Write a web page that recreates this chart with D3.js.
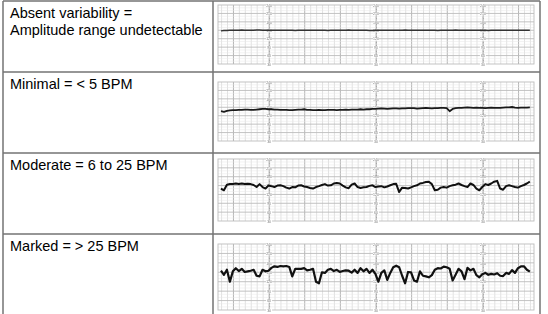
<!DOCTYPE html>
<html>
<head>
<meta charset="utf-8">
<script src="https://cdn.jsdelivr.net/npm/d3@7"></script>
<style>
  body { margin: 0; background: #fff; }
  svg { display: block; }
  .labels text { filter: grayscale(1); }
</style>
</head>
<body>
<svg></svg>
<script>
// row captions (left column)
let rowLabels = [
    ['Absent variability =', 'Amplitude range undetectable'],
    ['Minimal = < 5 BPM'],
    ['Moderate = 6 to 25 BPM'],
    ['Marked = > 25 BPM']
];

// tick labels printed on the strip paper
let bpmTicks = [240, 210, 180, 150, 120, 90, 60, 30];
let labelColumns = [0, 180, 360]; // seconds

// FHR samples, one every 5 s starting at -81 s
let sampleStart = -81;
let sampleStep = 5;

let absentFhr = [
    148,149,149,150,150,150,150,151,150,150,
    150,150,151,151,150,150,150,150,150,150,
    150,150,150,150,150,149,150,150,150,150,
    150,150,150,150,150,150,149,150,150,150,
    150,150,150,151,150,150,150,150,150,150,
    149,149,150,150,150,150,150,150,150,150,
    150,150,151,150,150,150,150,150,150,150,
    150,150,150,149,150,150,150,150,150,151,
    150,150,150,150,150,150,150,150,150,150,
    149,150,150,150,150,150,150,150,150,150,
    150,150,150,150,150
];

let minimalFhr = [
    136,134,137,139,140,140,141,141,142,142,
    141,141,142,143,144,144,143,143,142,142,
    141,141,141,140,140,141,142,142,143,141,
    141,140,140,141,140,140,141,141,141,140,
    141,141,142,141,142,142,142,143,142,143,
    143,144,144,145,146,145,144,145,146,146,
    145,146,146,147,147,147,145,146,147,148,
    147,146,147,147,148,148,147,136,144,147,
    148,148,149,150,149,148,149,148,148,147,
    148,149,148,148,148,149,150,150,151,149,
    148,149,149,149,150
];

let moderateFhr = [
    140,134,153,155,155,157,155,157,155,156,
    155,152,145,155,145,140,150,148,145,150,
    151,148,143,140,145,144,150,151,147,145,
    142,140,145,148,152,155,150,151,157,159,
    157,150,144,141,153,157,145,142,144,145,
    149,151,145,147,148,144,147,151,155,156,
    128,143,142,140,144,148,151,157,159,162,
    163,155,134,136,143,145,143,148,151,153,
    157,152,148,145,157,152,140,134,145,155,
    152,157,163,166,140,136,148,151,148,145,
    143,148,152,157,163
];

let markedFhr = [
    155,142,158,120,153,163,154,161,151,153,
    155,158,139,137,158,153,155,164,169,167,
    170,169,170,167,137,161,161,161,163,156,
    158,161,120,115,150,148,158,161,154,158,
    151,154,156,155,149,158,148,163,153,161,
    148,158,145,120,148,156,126,148,166,171,
    166,139,115,151,150,124,120,153,139,137,
    134,141,158,163,162,168,166,161,124,142,
    161,153,128,164,156,161,141,134,144,148,
    142,145,143,147,139,138,148,145,157,148,
    163,169,169,158,152
];

let series = [absentFhr, minimalFhr, moderateFhr, markedFhr];

let width = 548;
let height = 314;

let tableLeft = 3;
let tableRight = 540;
let colSplit = 213;
let rowTops = [1, 72, 153, 234];
let strips = [[5, 64], [82, 141], [159, 221], [244, 310]];
let traceWidths = [1.4, 1.8, 2, 2.2];
let traceColors = ['#333', '#1a1a1a', '#111', '#111'];

let svg = d3.select('svg')
    .attr('width', width)
    .attr('height', height);

let xScale = d3.scaleLinear()
    .domain([-86, 446])
    .range([218, 534]);

const drawStrip = (values, i) => {
    let yScale = d3.scaleLinear()
        .domain([30, 240])
        .range([strips[i][1], strips[i][0]]);

    let g = svg.append('g').attr('class', 'strip');

    // minor / major vertical lines (10 s, 1 min)
    g.selectAll('line.v')
        .data(d3.range(-80, 446, 10))
        .enter()
        .append('line')
        .attr('x1', (d) => xScale(d))
        .attr('x2', (d) => xScale(d))
        .attr('y1', yScale(240))
        .attr('y2', yScale(30))
        .attr('stroke', (d) => d % 60 === 0 ? '#b4b4b4' : '#d6d6d6')
        .attr('stroke-width', (d) => d % 60 === 0 ? 1 : 0.7);

    // horizontal lines (10 bpm, 30 bpm)
    g.selectAll('line.h')
        .data(d3.range(40, 240, 10))
        .enter()
        .append('line')
        .attr('x1', xScale.range()[0])
        .attr('x2', xScale.range()[1])
        .attr('y1', (d) => yScale(d))
        .attr('y2', (d) => yScale(d))
        .attr('stroke', (d) => d % 30 === 0 ? '#bcbcbc' : '#e6e6e6')
        .attr('stroke-width', (d) => d % 30 === 0 ? 0.9 : 0.5);

    g.append('rect')
        .attr('x', xScale.range()[0])
        .attr('y', yScale(240))
        .attr('width', xScale.range()[1] - xScale.range()[0])
        .attr('height', yScale(30) - yScale(240))
        .attr('fill', 'none')
        .attr('stroke', '#bcbcbc')
        .attr('stroke-width', 0.9);

    // label columns
    labelColumns.forEach((c) => {
        let axis = d3.axisRight(yScale)
            .tickValues(bpmTicks)
            .tickSize(0)
            .tickPadding(0);
        let a = g.append('g')
            .attr('class', 'labels')
            .attr('transform', `translate(${xScale(c)},0)`)
            .call(axis);
        a.select('.domain')
            .attr('stroke', '#a8a8a8')
            .attr('stroke-width', 1)
            .attr('stroke-dasharray', '2,1');
        a.selectAll('.tick')
            .insert('rect', 'text')
            .attr('x', -3)
            .attr('y', -1.5)
            .attr('width', 6)
            .attr('height', 3)
            .attr('fill', '#fff');
        a.selectAll('text')
            .attr('text-anchor', 'middle')
            .attr('x', 0)
            .attr('dy', '0.35em')
            .attr('fill', '#777')
            .style('font-size', '3.5px')
            .style('font-family', 'Liberation Sans, Arial, sans-serif');
    });

    let line = d3.line()
        .x((d, k) => xScale(sampleStart + k * sampleStep))
        .y((d) => yScale(d));

    g.append('path')
        .datum(values)
        .attr('d', line)
        .attr('fill', 'none')
        .attr('stroke', traceColors[i])
        .attr('stroke-width', traceWidths[i])
        .attr('stroke-linejoin', 'round');
};

series.forEach(drawStrip);

// table rules
let rules = svg.append('g')
    .attr('stroke', '#737373')
    .attr('stroke-width', 1.5);

rules.selectAll('line.row')
    .data(rowTops)
    .enter()
    .append('line')
    .attr('x1', tableLeft)
    .attr('x2', tableRight)
    .attr('y1', (d) => d)
    .attr('y2', (d) => d);

[tableLeft, colSplit, tableRight].forEach((x) => {
    rules.append('line')
        .attr('x1', x)
        .attr('x2', x)
        .attr('y1', rowTops[0])
        .attr('y2', height);
});

// captions
svg.selectAll('text.caption')
    .data(rowLabels)
    .enter()
    .append('text')
    .attr('class', 'caption')
    .attr('x', 10)
    .attr('y', (d, i) => rowTops[i] + 17)
    .style('font-family', 'Liberation Sans, Arial, sans-serif')
    .style('font-size', '14.5px')
    .attr('fill', '#000')
    .selectAll('tspan')
    .data((d) => d)
    .enter()
    .append('tspan')
    .attr('x', 10)
    .attr('dy', (d, k) => k === 0 ? 0 : 17)
    .text((d) => d);
</script>
</body>
</html>
